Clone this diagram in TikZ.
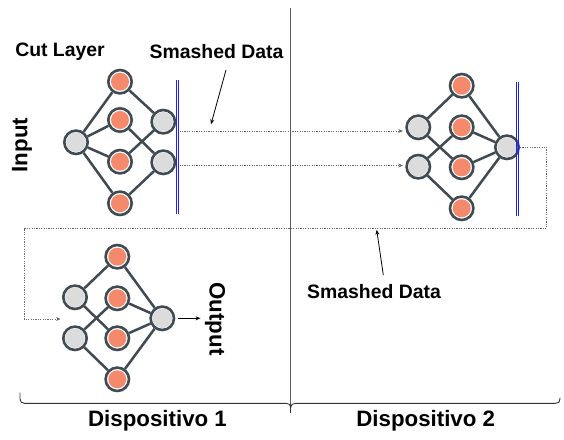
\documentclass[tikz,border=0pt]{standalone}
\usepackage{fontspec}
\setmainfont{Liberation Sans}
\usetikzlibrary{arrows.meta}
\definecolor{slate}{HTML}{3F4A52}
\definecolor{salmon}{HTML}{F4896B}
\definecolor{lgray}{HTML}{DCDCDC}
\definecolor{cutblue}{RGB}{30,30,255}
\tikzset{
  neuron/.style={circle, draw=slate, fill=white, line width=2.6pt, minimum size=23.4pt, inner sep=0pt},
  ocore/.style={fill=salmon},
  gcore/.style={fill=lgray},
  edge/.style={draw=slate, line width=2.5pt},
  dotline/.style={draw=black!60, line width=0.7pt, dash pattern=on 1.2pt off 1.2pt, -{Stealth[length=4.5pt,width=4pt,fill=black]}},
  pointer/.style={draw=black, line width=0.8pt, -{Stealth[length=5pt,width=4pt]}},
  cutbar/.style={fill=cutblue},
  lab/.style={font=\fontsize{19.4}{22}\selectfont\bfseries, inner sep=0pt},
  biglab/.style={font=\fontsize{22.3}{26}\selectfont\bfseries, inner sep=0pt},
}
\begin{document}
\begin{tikzpicture}[x=1pt,y=-1pt]
\useasboundingbox (0,0) rectangle (564,439);

% ---------- Network 1 (top left) ----------
\node[neuron] (a0) at (76,142.3) {};
\node[neuron] (a1) at (120,81.7) {};
\node[neuron] (a2) at (120,120) {};
\node[neuron] (a3) at (120,161.7) {};
\node[neuron] (a4) at (120,203.3) {};
\node[neuron] (a5) at (163.3,121.7) {};
\node[neuron] (a6) at (163.3,162.3) {};
\draw[edge] (a0) -- (a1) (a0) -- (a2) (a0) -- (a3) (a0) -- (a4)
            (a1) -- (a5) (a3) -- (a5) (a2) -- (a6) (a4) -- (a6);

% ---------- Network 2 (top right) ----------
\node[neuron] (b0) at (418.3,127.3) {};
\node[neuron] (b1) at (418.3,166.7) {};
\node[neuron] (b2) at (461.7,85.7) {};
\node[neuron] (b3) at (461.7,127.3) {};
\node[neuron] (b4) at (461.7,167.3) {};
\node[neuron] (b5) at (461.7,208.3) {};
\node[neuron] (b6) at (507,147.3) {};
\draw[edge] (b0) -- (b2) (b0) -- (b4) (b1) -- (b3) (b1) -- (b5)
            (b2) -- (b6) (b3) -- (b6) (b4) -- (b6) (b5) -- (b6);

% ---------- Network 3 (bottom left) ----------
\node[neuron] (c0) at (75,297.3) {};
\node[neuron] (c1) at (75,338.3) {};
\node[neuron] (c2) at (117.3,256.7) {};
\node[neuron] (c3) at (117.3,298.3) {};
\node[neuron] (c4) at (117.3,338.3) {};
\node[neuron] (c5) at (117.3,379.3) {};
\node[neuron] (c6) at (162.3,318.3) {};
\draw[edge] (c0) -- (c2) (c0) -- (c4) (c1) -- (c3) (c1) -- (c5)
            (c2) -- (c6) (c3) -- (c6) (c4) -- (c6) (c5) -- (c6);

% ---------- Neuron cores ----------
\foreach \n in {a1,a2,a3,a4,b2,b3,b4,b5,c2,c3,c4,c5}
  \fill[ocore] (\n.center) circle (9pt);
\foreach \n in {a0,a5,a6,b0,b1,b6,c0,c1,c6}
  \fill[gcore] (\n.center) circle (9.8pt);

% ---------- Cut layers ----------
\fill[cutbar] (176,80) rectangle (177.1,214);
\fill[cutbar] (178.1,80) rectangle (179.2,214);
\fill[cutbar] (516,81.7) rectangle (517.1,215.7);
\fill[cutbar] (518,81.7) rectangle (519.1,215.7);

% ---------- Labels ----------
\node[lab] (cut) at (60,52) {Cut Layer};
\node[lab] (sm1) at (216.5,52) {Smashed Data};
\node[lab] (sm2) at (374,291.5) {Smashed Data};
\node[biglab, rotate=90] (inp) at (22,145) {Input};
\node[biglab, rotate=-90] (outp) at (215,319) {Output};
\node[biglab] (d1) at (157.5,420.5) {Dispositivo 1};
\node[biglab] (d2) at (425.7,420.5) {Dispositivo 2};

% ---------- Data flow ----------
\coordinate (s1) at (179.5,131);
\coordinate (s2) at (179.5,165.5);
\draw[dotline, shorten >=2.5pt] (s1) -- (s1 -| b0.west);
\draw[dotline, shorten >=2.5pt] (s2) -- (s2 -| b1.west);
\coordinate (r1) at (546.7,228.3);
\coordinate (r2) at (24.3,319);
\coordinate (r3) at (60.5,319);
\draw[dotline] (b6.east) -| (r1) -| (r2) -- (r3);
\coordinate (o1) at (200.5,318.3);
\draw[draw=black, line width=0.8pt, -{Stealth[length=5pt,width=4pt]}] (c6.east) ++(2.5,0) -- (o1);

% pointers to the smashed data
\coordinate (p1s) at (226,70);
\coordinate (p1e) at (211,124.3);
\draw[pointer] (p1s) -- (p1e);
\coordinate (p2s) at (383.3,275);
\coordinate (p2e) at (376.7,229.8);
\draw[pointer] (p2s) -- (p2e);

% ---------- Divider and brace ----------
\draw[black!65, line width=1pt] (290.7,8) -- (290.7,413);
\draw[black!80, line width=0.9pt]
  (20,392.5) -- (20,398.8) .. controls (20,401.8) and (21.5,403.3) .. (24.5,403.3)
  -- (286,403.3) .. controls (289,403.3) and (290.7,404.8) .. (290.7,407.5)
  .. controls (290.7,404.8) and (292.4,403.3) .. (295.4,403.3)
  -- (555.5,403.3) .. controls (558.5,403.3) and (560,401.8) .. (560,398.8) -- (560,397.5);
\draw[black!80, line width=0.9pt] (290.7,407) -- (290.7,413);
\end{tikzpicture}
\end{document}
